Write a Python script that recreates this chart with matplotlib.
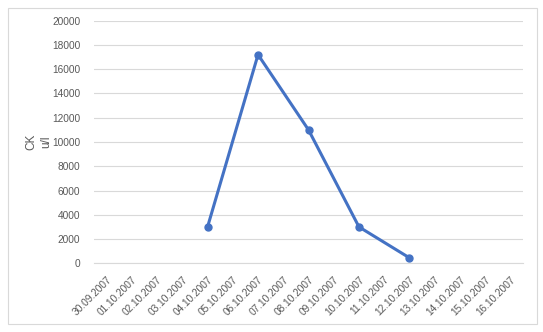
import matplotlib
matplotlib.use("Agg")
import matplotlib.pyplot as plt
from matplotlib.patches import Rectangle
import numpy as np

dates = ["30.09.2007", "01.10.2007", "02.10.2007", "03.10.2007", "04.10.2007",
         "05.10.2007", "06.10.2007", "07.10.2007", "08.10.2007", "09.10.2007",
         "10.10.2007", "11.10.2007", "12.10.2007", "13.10.2007", "14.10.2007",
         "15.10.2007", "16.10.2007"]
ck_values = [np.nan, np.nan, np.nan, np.nan, 3000,
             np.nan, 17200, np.nan, 11000, np.nan,
             3000, np.nan, 450, np.nan, np.nan,
             np.nan, np.nan]
y_ticks = [0, 2000, 4000, 6000, 8000, 10000, 12000, 14000, 16000, 18000, 20000]

plt.rcParams['font.family'] = ['Liberation Sans', 'DejaVu Sans']

W, H = 543, 332
fig = plt.figure(figsize=(W / 100, H / 100), dpi=100)
fig.patch.set_facecolor("white")

# chart border
fig.patches.append(Rectangle((7.5 / W, 1 - 323.5 / H), 529 / W, 316 / H,
                             transform=fig.transFigure, fill=False,
                             edgecolor="#D9D9D9", linewidth=0.8))

x0, x1 = 94, 523
ytop, ybot = 20.7, 263.3
ax = fig.add_axes([x0 / W, 1 - ybot / H, (x1 - x0) / W, (ybot - ytop) / H])

x = np.arange(len(dates))
vals = np.array(ck_values, dtype=float)
mask = ~np.isnan(vals)
ax.plot(x[mask], vals[mask], color="#4472C4", linewidth=2.2,
        marker="o", markersize=5, solid_capstyle="round", zorder=3)

ax.set_xlim(-0.5, len(dates) - 0.5)
ax.set_ylim(0, 20000)
ax.set_yticks(y_ticks)
ax.set_yticklabels([str(v) for v in y_ticks])
ax.set_xticks(x)
ax.set_xticklabels(dates, rotation=45, ha="right", va="top",
                   rotation_mode="anchor")

ax.grid(axis="y", color="#D9D9D9", linewidth=0.8)
ax.set_axisbelow(True)
for s in ["top", "right", "left"]:
    ax.spines[s].set_visible(False)
ax.spines["bottom"].set_color("#D9D9D9")
ax.spines["bottom"].set_linewidth(0.8)
ax.tick_params(axis="both", length=0, colors="#595959", labelsize=7.3)
ax.tick_params(axis="y", pad=10)
ax.tick_params(axis="x", pad=8)

fig.text(39 / W, 1 - 142 / H, "CK\nu/l", rotation=90, ha="center", va="center",
         fontsize=8.5, color="#595959", linespacing=1.35)

fig.savefig("out.png", dpi=100, facecolor="white")
